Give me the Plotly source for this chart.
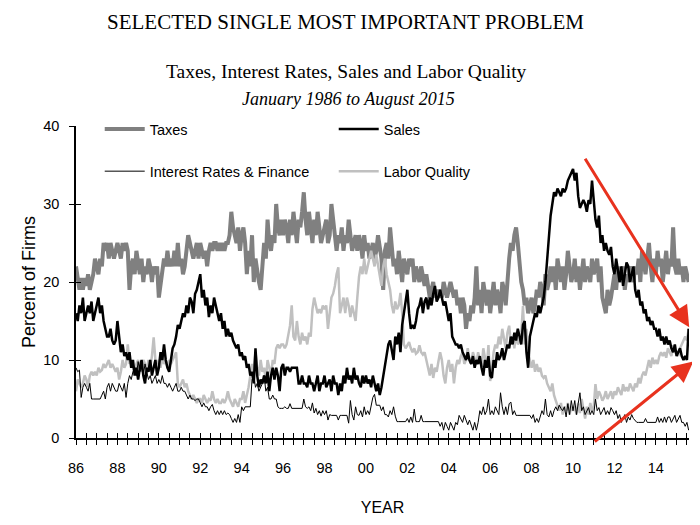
import plotly.graph_objects as go

# ---------------- data (monthly, Jan 1986 - Aug 2015) ----------------
start_year = 1986
tick_labels = ["86", "88", "90", "92", "94", "96", "98", "00", "02", "04",
               "06", "08", "10", "12", "14"]
y_ticks = [0, 10, 20, 30, 40]

taxes = [
    22, 20, 19, 20.5, 19, 20.5, 19.5, 21, 19, 20, 21, 23,
    22, 21, 23, 22, 25, 24, 25, 23, 25, 24, 23, 24,
    25, 24, 23, 25, 24, 25, 24, 19, 22, 23, 21, 24,
    22, 21, 23, 20, 22, 21, 23, 22, 20, 22, 21, 22,
    18, 20, 22, 23, 22, 24, 22, 23, 22, 24, 22, 25,
    22, 23, 21, 22, 24, 26, 25, 24, 23, 24, 25, 23,
    25, 24, 23, 24, 22, 24, 25, 24, 25, 25, 24, 25,
    24, 25, 24, 25, 25, 26, 29, 27, 26, 25, 27, 24,
    26, 27, 25, 21, 24, 22, 26, 20, 23, 21, 20, 19,
    22, 25, 23, 28, 25, 24, 26, 25, 30, 27, 26, 28,
    26, 28, 27, 25, 28, 26, 29, 27, 25, 28, 27, 29,
    31.5, 28, 26, 29, 27, 25, 28, 26, 29, 27, 25, 26,
    27, 28, 25, 26, 30, 28, 27, 24, 26, 25, 27, 24,
    26, 25, 28, 26, 24, 25, 26, 24, 26, 25, 23, 26,
    24, 25, 23, 24, 25, 23, 24, 26, 24, 23, 19, 24,
    25, 23, 27, 24, 22, 23, 21, 24, 22, 20, 23, 22,
    21, 23, 22, 23, 20, 22, 21, 20, 22, 21, 19.5, 21,
    19, 18, 19, 20, 18, 19, 18, 19, 18, 20, 19, 18,
    19, 20, 19, 18, 19, 17, 18, 16, 18, 17, 14, 16,
    15, 17, 16, 18, 22, 17, 19, 16, 20, 18, 17, 19,
    16, 18, 20, 17, 19, 18, 16, 20, 19, 17, 21, 23,
    25, 24, 26, 27, 25, 22, 20, 19, 17, 18, 16, 17,
    18, 16, 17, 19, 18, 20, 19, 17, 21, 19, 20, 22,
    20, 22, 19, 23, 21, 20, 22, 19, 21, 24, 22, 20,
    21, 23, 20, 22, 19, 21, 23, 20, 22, 21, 20, 23,
    21, 22, 23, 20, 22, 18, 17, 16, 19, 17, 18, 20,
    21, 19, 22, 20, 21, 22, 19, 21, 20, 22, 21, 20,
    22, 21, 23, 20, 24, 22, 21, 23, 25, 22, 20, 23,
    21, 24, 22, 23, 20, 22, 24, 21, 23, 22, 27, 22,
    21, 23, 21, 22, 20, 22, 21, 20,
]

sales = [
    16, 15, 17, 16, 18, 15, 16, 17, 16, 17.5, 15, 16,
    17, 18, 16, 17, 15, 14, 13, 13, 14, 12.5, 12, 12.5,
    15, 13, 11, 12, 10.5, 11, 10, 11, 9, 10, 8, 9,
    7.5, 9, 10, 8, 7, 9, 8.5, 10, 8, 9, 10, 8,
    9, 11, 10, 12, 10, 9, 8.5, 10, 11.5, 12, 13, 14.5,
    14, 15, 16, 15.5, 17, 16, 18, 17.5, 16, 18.5, 19, 20,
    21, 18, 19, 17, 18, 15.5, 17, 16, 18, 17, 16, 15,
    16, 14, 15, 13, 14, 13, 13.5, 12.5, 12, 11.5, 12, 10.5,
    11, 10, 10.5, 9, 9.5, 8, 8.5, 7, 11.5, 8, 6.5, 7.5,
    7, 8, 7, 8.5, 6, 8, 9, 7.5, 9, 8, 6, 9,
    9.5, 8, 9, 9, 8.5, 9, 9, 9, 9, 7, 7, 8,
    7, 7, 6.5, 8, 7, 7, 6, 7, 8, 6, 7, 7,
    8, 6.5, 7, 7.5, 6, 8, 7, 7, 5.5, 7, 6, 8,
    7, 9, 7.5, 8, 7, 9, 7.5, 8, 7, 6.5, 8, 7,
    8, 7, 7.5, 6.5, 8, 7, 6, 7, 5.5, 6.5, 8, 9.5,
    11, 12, 12.5, 11, 10, 13, 12, 13.5, 11, 14.5, 16, 18,
    19, 16, 14, 14.5, 14, 15, 16.5, 17, 18, 16, 17.5, 18,
    16.5, 18, 17, 18.5, 19.5, 17.5, 18, 19, 18, 17, 17.5, 16,
    15, 16, 13, 12.5, 12, 12, 11.5, 12, 11, 10.5, 10, 11,
    10, 9.5, 10.5, 9, 10, 9.5, 10.5, 9, 8, 10, 9, 10.5,
    8, 7.7, 10, 9, 11, 10, 10.5, 11.5, 10, 11, 12, 11.5,
    13, 12, 13.5, 12.5, 14, 13, 12, 14.5, 15, 11, 9, 13,
    14, 15, 16, 15.5, 17, 16, 17, 18, 20, 23, 26, 28.5,
    30, 31.5, 31, 32, 31.5, 31, 32, 31.5, 32, 33, 33.5, 34,
    34.5, 33, 34, 31, 29.5, 30, 30.5, 30, 29, 30.5, 30, 33,
    30, 28, 27, 28.5, 25, 26, 24, 25, 24, 23.5, 24.5, 22,
    21, 23, 21.5, 20, 22, 19.5, 21, 22.5, 22, 20, 21, 22,
    19, 18, 19, 17, 17.5, 16, 16.5, 15, 15.5, 14.5, 15, 14,
    14, 13, 14, 12.5, 13, 12, 13, 12, 12.5, 11.5, 11, 12,
    10.5, 11, 11.5, 10.5, 10, 10.5, 10, 14,
]

interest = [
    9, 8.5, 8.7, 5.2, 6.5, 7, 6.5, 6, 7, 5, 5, 5,
    5, 5, 5, 5.5, 6, 5, 6.5, 7, 6, 7, 6.5, 6,
    6, 7, 6.5, 6, 7, 5.2, 7, 8, 7.5, 8.5, 9, 8,
    9.8, 8.5, 9, 8, 9.5, 8.5, 7.5, 8, 7, 7.5, 8, 7,
    7.5, 7, 8, 7, 7, 6.5, 7, 6.5, 6, 6.5, 7, 6,
    6, 6.5, 6, 6, 5.5, 5, 5.5, 5, 5, 4.8, 5, 5,
    4.5, 4, 4.5, 4, 4, 3.5, 4, 4.3, 3.5, 3, 3.5, 3,
    3.5, 3, 3.5, 3, 3.2, 3, 2.5, 2, 2.5, 2, 3, 2,
    4, 3.5, 4, 4, 4, 4, 7.5, 8, 6.5, 7, 6, 6.5,
    7, 8, 6, 6.5, 5, 5, 5.5, 5, 5, 4, 3.8, 3.8,
    3.8, 4, 3.8, 3.8, 4.4, 3.8, 3.8, 3.8, 3.8, 3.8, 3.8, 3.8,
    5, 4, 3.8, 4, 3.5, 4.5, 3.2, 3.8, 3, 3.5, 2.8, 3.5,
    3, 3.5, 2.3, 3, 2.9, 2.9, 2.9, 2.9, 2.3, 2.9, 2.9, 2.9,
    2.9, 2.9, 1.9, 4.8, 3, 2.3, 4, 3, 2.9, 3.5, 2.7, 4,
    3, 3.5, 3, 4, 5.2, 5.6, 4.2, 4.2, 4.2, 3.5, 4, 3,
    3, 2.7, 3.5, 3, 4, 2.8, 2.1, 2.1, 2.1, 2.1, 2.1, 2.1,
    2.5, 2, 2.7, 2, 3.7, 2.1, 2.1, 2.1, 2.9, 2.1, 2.1, 2.1,
    2.1, 2.1, 2.1, 2.1, 2.1, 2.1, 2.1, 1.5, 2, 1, 2, 1.5,
    1, 2, 1.5, 1, 2, 1.7, 2.9, 2.5, 2, 2.9, 2.3, 1.7,
    2.3, 1.5, 1, 2, 1, 2, 3.5, 3, 4, 3, 3.5, 5,
    3, 3.5, 3, 4, 3.5, 3, 5.8, 4, 3, 4, 3, 4.4,
    4.6, 3, 3.5, 2.9, 2.9, 2.9, 2.9, 2.9, 2.9, 2.9, 2.9, 2.9,
    2.5, 3, 2, 2.5, 2, 2.9, 3.5, 3, 5, 3, 2.7, 3.5,
    2.7, 3.5, 4, 3.5, 4.2, 3.8, 3.5, 4, 2.7, 4.4, 3, 4.8,
    3.5, 4.8, 3, 4.4, 5.8, 3.5, 4, 3, 3.5, 3.9, 3, 3.5,
    3, 5, 3.5, 3.9, 3, 3.5, 3.9, 3, 3.5, 3, 3.9, 3.5,
    3, 3.5, 2.5, 3, 2, 2.5, 3, 2, 2.7, 2.3, 3, 2.5,
    2.3, 2, 2, 2, 2, 2, 2.5, 2, 2, 2, 2, 2,
    2, 2.7, 2, 2.5, 2, 2.7, 2, 2.7, 2.7, 2, 2.5, 2.9,
    2, 2.5, 2.9, 2, 2, 1.5, 2, 1,
]

labor = [
    6, 7.5, 7, 6.5, 7, 8, 7.5, 6.5, 8, 8.5, 8, 8.5,
    8, 9, 8.5, 8.7, 9.5, 9, 9.5, 10, 9, 9.5, 9, 8.5,
    9, 7.5, 8.5, 10, 9, 9.5, 12, 9.5, 10, 9, 8.5, 9.5,
    10, 9, 8.5, 10, 9.5, 8.5, 10, 9, 10.5, 12.9, 10, 9.5,
    10, 9, 10.5, 9.5, 10, 9, 10, 9.5, 10, 10.5, 11, 7,
    6.5, 7, 7.5, 6.5, 7, 6, 5.5, 5, 5.5, 5, 4.5, 5,
    5, 4.5, 5.5, 5, 4.5, 5, 4.8, 6, 5, 4.5, 5, 4.5,
    4.5, 5, 4.5, 5, 6, 5, 4.5, 4, 5, 4.5, 4, 5,
    5, 6, 4.5, 5.5, 6.5, 8, 9.5, 8.5, 11, 9, 8, 10,
    8.5, 9, 7.5, 10, 9, 8, 10, 9.5, 11.5, 12, 11.5, 12,
    12, 11.5, 12, 13, 14.4, 17, 13, 12.5, 15, 13, 12, 13.5,
    12.5, 13, 12, 13.5, 13, 16.5, 18, 17, 16, 16.5, 16, 17,
    16.5, 17, 14, 16, 18, 18.5, 19.5, 21, 21.9, 16, 17, 18,
    16, 18, 17, 15.5, 17, 16, 15, 18, 20.7, 22, 21, 23,
    21, 22, 23, 24, 23, 22, 23.5, 22, 21, 19.5, 22, 23,
    21, 20, 19, 17, 16, 17.5, 16.5, 17, 18.6, 16, 12, 11.5,
    12, 12.3, 11.5, 11, 11.5, 10.8, 11, 11.9, 11, 10.7, 11, 10,
    9, 8, 9.5, 7.7, 9, 8.5, 9.8, 11, 10, 8, 7, 9,
    10, 8.5, 9.5, 7, 9, 10, 9.5, 10.5, 11, 9.5, 10, 11.5,
    10, 9.5, 11, 10, 9.4, 11, 10, 9, 11.5, 10, 9, 11.9,
    7.3, 9, 11, 12, 11.5, 13, 12, 14, 12.5, 11.5, 13.5, 14.4,
    12, 13, 11.5, 13.6, 12, 12.5, 13.5, 16.9, 12, 14, 11, 10,
    9, 10, 8.5, 9.5, 8.5, 9, 8, 7.7, 8, 7, 6.5, 6,
    7, 5.5, 4.8, 4, 3.5, 4.5, 3, 4, 3.5, 4.5, 3, 4,
    3.5, 4, 3, 4.5, 3.2, 5, 3.5, 2.5, 4, 3, 4.5, 3.5,
    4, 6.9, 5, 6, 5.5, 4.8, 5.2, 6, 5, 5.5, 6, 5,
    6, 5.5, 6.5, 6, 5.5, 6.9, 6, 6.5, 6, 7, 6.5, 6,
    7, 6.5, 7.7, 7, 8, 8.5, 8, 9, 10, 9, 10.3, 9.5,
    10, 9.5, 10.5, 11, 10.5, 11, 10.3, 11.5, 11, 10.5, 11.9, 11,
    11, 10.5, 11.5, 12, 12.5, 13, 12.5, 14,
]

# ---------------- figure ----------------
n = len(taxes)
x = [start_year + i / 12 for i in range(n)]

half_years = [start_year + k / 2 for k in range(60)]
tick_text = []
for k in range(60):
    tick_text.append(tick_labels[k // 4] if k % 4 == 0 else "")

SANS = "Liberation Sans, Arial, sans-serif"
SERIF = "Liberation Serif, Times New Roman, serif"

fig = go.Figure()
fig.add_trace(go.Scatter(x=x, y=taxes, mode="lines", name="Taxes",
                         line=dict(color="#808080", width=4), legend="legend"))
fig.add_trace(go.Scatter(x=x, y=labor, mode="lines", name="Labor Quality",
                         line=dict(color="#c0c0c0", width=2.5), legend="legend2",
                         legendrank=2))
fig.add_trace(go.Scatter(x=x, y=interest, mode="lines", name="Interest Rates & Finance",
                         line=dict(color="#000000", width=1), legend="legend2",
                         legendrank=1))
fig.add_trace(go.Scatter(x=x, y=sales, mode="lines", name="Sales",
                         line=dict(color="#000000", width=2.5), legend="legend"))

axis_font = dict(family=SANS, size=14.5, color="#000000")
legend_font = dict(family=SANS, size=14.5, color="#000000")

# page body adds an 8px offset, so the figure is 8px smaller on each axis
fig.update_layout(
    width=692, height=517,
    margin=dict(l=68, r=11, t=118, b=80),
    paper_bgcolor="white", plot_bgcolor="white",
    showlegend=True,
    xaxis=dict(range=[1986, 2015.6], showgrid=False, zeroline=False,
               showline=True, linecolor="black", linewidth=1.5,
               ticks="outside", ticklen=5, tickwidth=1.2, tickcolor="black",
               tickmode="array", tickvals=half_years, ticktext=tick_text,
               tickfont=axis_font, ticklabelstandoff=11,
               title=dict(text="YEAR", font=dict(family=SANS, size=16, color="#000"),
                          standoff=27)),
    xaxis2=dict(range=[1986, 2015.6], overlaying="x", anchor="y2", showgrid=False,
                zeroline=False, showline=False, ticks="inside", ticklen=5,
                tickwidth=1.2, tickcolor="black", tickmode="array",
                tickvals=half_years, showticklabels=False),
    yaxis=dict(range=[0, 40], showgrid=False, zeroline=False,
               showline=True, linecolor="black", linewidth=1.5,
               ticks="outside", ticklen=5, tickwidth=1.2, tickcolor="black",
               tickmode="array", tickvals=y_ticks, tickfont=axis_font,
               ticklabelstandoff=7,
               title=dict(text="Percent of Firms",
                          font=dict(family=SANS, size=18, color="#000"),
                          standoff=3)),
    yaxis2=dict(range=[0, 40], overlaying="y", anchor="x2", showgrid=False,
                zeroline=False, showline=False, ticks="inside", ticklen=5,
                tickwidth=1.2, tickcolor="black", tickmode="array",
                tickvals=y_ticks, showticklabels=False),
    legend=dict(orientation="h", x=0.0387, y=0.99, xanchor="left", yanchor="middle",
                entrywidth=179, entrywidthmode="pixels", itemwidth=40,
                bgcolor="rgba(0,0,0,0)", font=legend_font, traceorder="normal"),
    legend2=dict(orientation="h", x=0.0387, y=0.855, xanchor="left", yanchor="middle",
                 entrywidth=179, entrywidthmode="pixels", itemwidth=40,
                 bgcolor="rgba(0,0,0,0)", font=legend_font, traceorder="normal"),
)

# invisible anchor trace so the overlay axes (crossing tick marks) are drawn
fig.add_trace(go.Scatter(x=[x[0]], y=[interest[0]], xaxis="x2", yaxis="y2",
                         mode="markers", marker=dict(opacity=0), showlegend=False,
                         hoverinfo="skip"))

# titles
fig.add_annotation(text="SELECTED SINGLE MOST IMPORTANT PROBLEM", xref="paper", yref="paper",
                   x=0.439, y=1.333, xanchor="center", yanchor="middle", showarrow=False,
                   font=dict(family=SERIF, size=21, color="#000"))
fig.add_annotation(text="Taxes, Interest Rates, Sales and Labor Quality", xref="paper",
                   yref="paper", x=0.441, y=1.176, xanchor="center", yanchor="middle",
                   showarrow=False, font=dict(family=SERIF, size=19.5, color="#000"))
fig.add_annotation(text="<i>January 1986 to August 2015</i>", xref="paper", yref="paper",
                   x=0.444, y=1.088, xanchor="center", yanchor="middle", showarrow=False,
                   font=dict(family=SERIF, size=18, color="#000"))

# red trend arrows
arrow_down = dict(tail=(2010.54, 36.0), head=(2015.61, 14.2))
arrow_up = dict(tail=(2010.98, -0.6), head=(2015.81, 9.8))
for a in (arrow_down, arrow_up):
    fig.add_annotation(x=a["head"][0], y=a["head"][1], ax=a["tail"][0], ay=a["tail"][1],
                       xref="x", yref="y", axref="x", ayref="y", text="",
                       showarrow=True, arrowhead=2, arrowsize=1.4, arrowwidth=3,
                       arrowcolor="#e8321e", standoff=0, startstandoff=0)

fig.write_html("out.html")
